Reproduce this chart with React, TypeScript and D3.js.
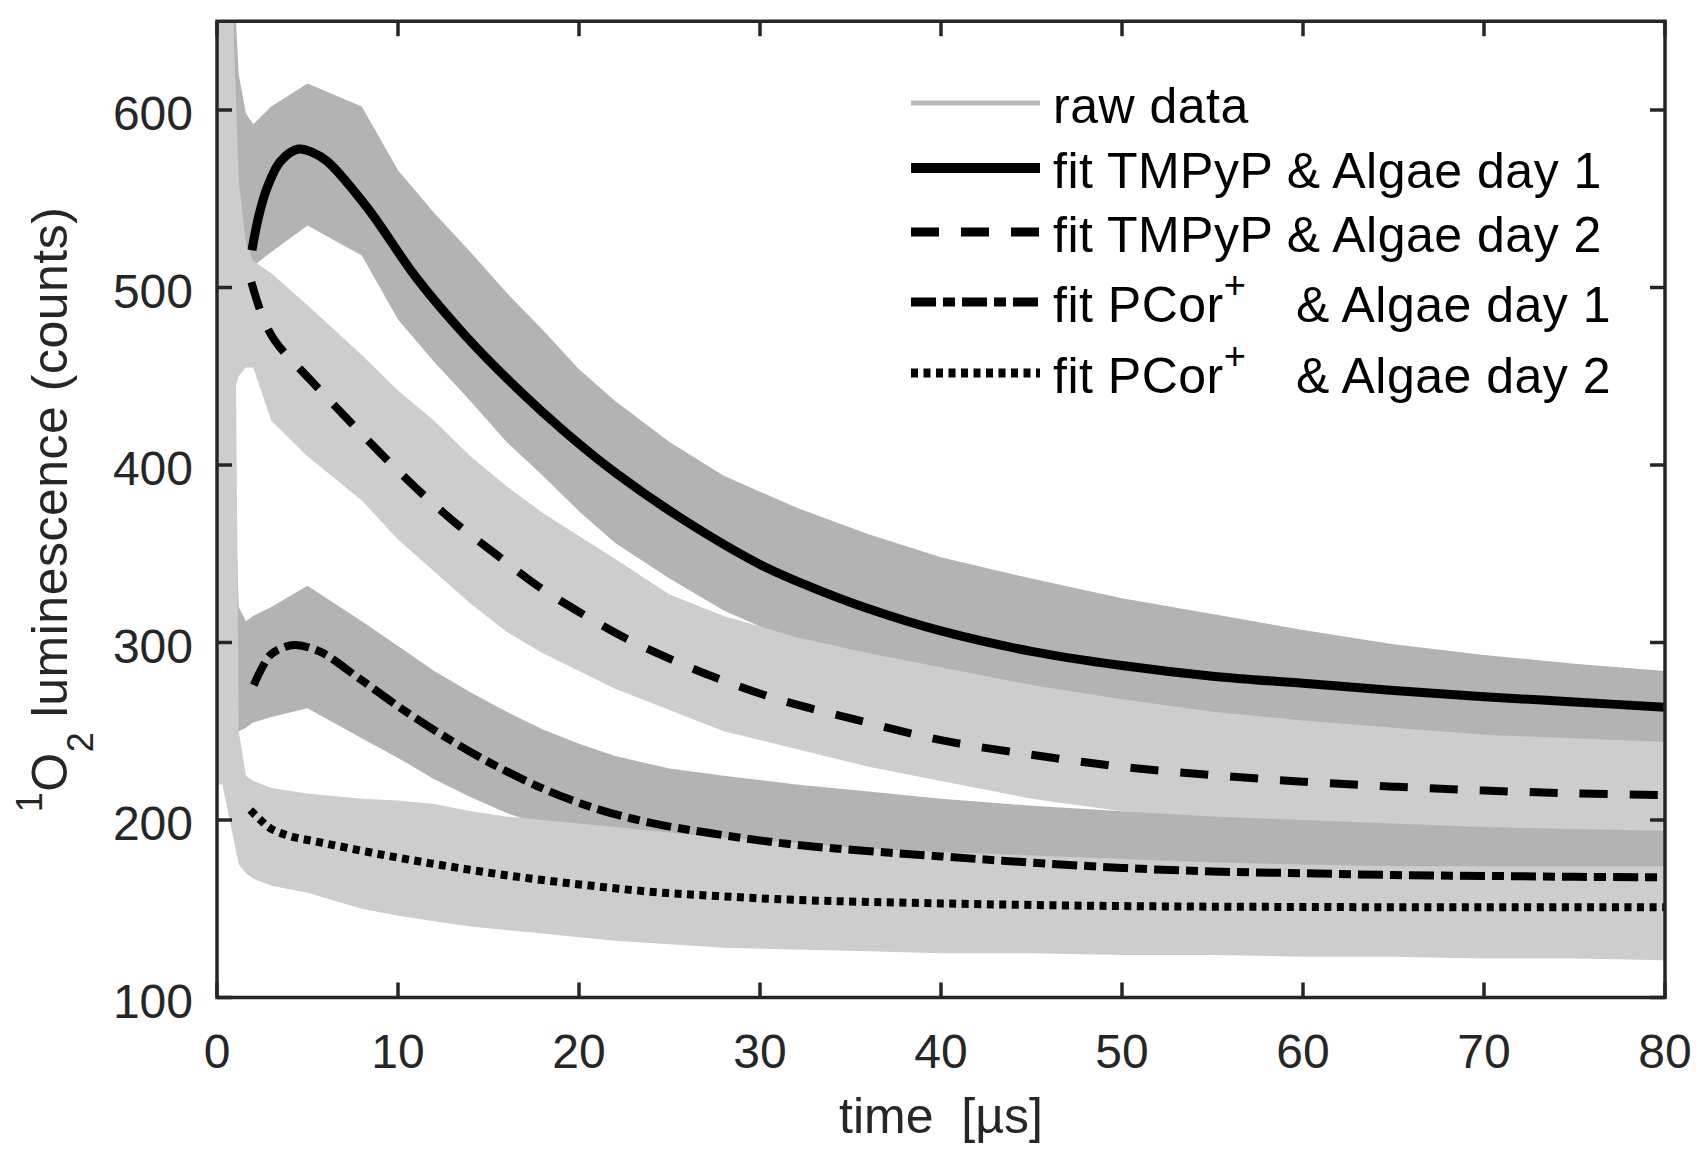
import * as d3 from "d3";

// raw traces (upper / lower edge of the grey band)
const rawTime = [0, 0.3, 0.6, 0.9, 1.2, 1.6, 2, 3, 5, 8, 10, 12, 14, 16, 18, 20, 22, 25, 28, 32, 36, 40, 45, 50, 55, 60, 65, 70, 75, 80];
const tmpyp1Hi = [700, 700, 700, 680, 620, 598, 592, 602, 615, 602, 566, 542, 520, 497, 476, 454, 436, 413, 394, 376, 361, 348, 336, 325, 316, 307, 299, 293, 288, 284];
const tmpyp1Lo = [250, 250, 420, 480, 495, 500, 512, 520, 535, 518, 482, 458, 436, 413, 394, 374, 356, 336, 318, 300, 284, 272, 262, 254, 248, 244, 240, 236, 233, 230];
const tmpyp2Hi = [700, 700, 700, 650, 560, 525, 515, 508, 490, 462, 442, 425, 405, 388, 373, 360, 347, 327, 315, 303, 294, 286, 276, 268, 261, 256, 252, 248, 246, 244];
const tmpyp2Lo = [240, 240, 400, 440, 450, 455, 455, 425, 405, 380, 358, 340, 322, 306, 294, 284, 274, 262, 250, 240, 230, 222, 212, 205, 200, 197, 195, 193, 191, 190];
const pcor1Hi = [700, 700, 560, 420, 320, 312, 315, 320, 332, 312, 298, 284, 272, 261, 251, 243, 236, 229, 225, 220, 216, 212, 208, 205, 202, 200, 198, 196, 195, 194];
const pcor1Lo = [230, 230, 240, 248, 250, 252, 255, 258, 263, 246, 235, 223, 213, 204, 197, 190, 184, 179, 175, 170, 165, 160, 157, 154, 152, 150, 149, 148, 147, 146];
const pcor2Hi = [700, 700, 690, 650, 250, 225, 222, 218, 215, 212, 211, 209, 205, 202, 200, 198, 196, 193, 190, 187, 184, 182, 180, 178, 176, 175, 174, 174, 174, 174];
const pcor2Lo = [220, 220, 205, 190, 175, 170, 167, 163, 159, 150, 146, 143, 140, 138, 136, 134, 132, 130, 128, 127, 126, 125, 125, 124, 124, 123, 123, 122, 122, 121];

// fitted curves
const fitT1 = [1.93, 2.3, 2.76, 3.5, 4.5, 5.3, 6.1, 8.3, 11.05, 13.8, 16.6, 19.3, 22.1, 25.8, 30, 33, 36, 40, 45, 50, 55, 60, 65, 70, 75, 80];
const fitV1 = [521, 540, 556, 571, 578, 576, 571, 545, 505, 472, 443, 418, 395, 369, 344, 330.5, 319, 306.5, 295, 287, 281, 277, 273, 269.5, 266.5, 263.5];
const fitT2 = [1.9, 2.5, 3.2, 5.15, 7.1, 9, 11, 13.1, 15.5, 17.7, 20.2, 22.65, 25.2, 27.6, 31, 35.9, 40, 45.1, 50, 55, 60, 65, 70, 75, 80];
const fitV2 = [503, 484, 470, 448, 427, 407, 387, 368, 349, 332, 316, 302, 290, 280, 268, 255, 245, 236.6, 230, 225.3, 221.6, 218.8, 216.6, 215, 214];
const fitT3 = [2.03, 2.5, 2.95, 3.6, 4.33, 5.7, 7.73, 10.3, 12.9, 15.5, 18.4, 21.2, 23.9, 27.3, 32, 40, 45, 50, 55, 60, 65, 70, 75, 80];
const fitV3 = [276, 286, 293, 297, 298.6, 294.8, 280.7, 262, 245, 230, 216, 205.6, 198.5, 192.5, 186, 179.5, 176, 173, 171, 170, 169, 168.5, 168, 167.7];
const fitT4 = [1.84, 2.4, 2.95, 4, 5.5, 9.2, 12.9, 16.6, 20.3, 23.9, 27.6, 32, 40, 50, 60, 70, 80];
const fitV4 = [205.6, 200, 195.3, 191, 187.8, 180.3, 173.7, 168, 163.4, 159.6, 157.2, 155, 153, 151.5, 151, 150.8, 150.8];

const xTicks = [0, 10, 20, 30, 40, 50, 60, 70, 80];
const yTicks = [100, 200, 300, 400, 500, 600];

const W = 1706;
const H = 1160;
const FONT = "'Liberation Sans', Arial, Helvetica, sans-serif";
const AXIS = "#262626";
const DARK = "#b3b3b3";
const LIGHT = "#cdcdcd";

const x = d3.scaleLinear().domain([0, 80]).range([217, 1665]);
const y = d3.scaleLinear().domain([100, 650]).range([997.5, 21.25]);

const band = d3
  .area<number>()
  .x((t) => x(t))
  .curve(d3.curveLinear);

function bandPath(hi: number[], lo: number[]) {
  return band.y0((_, i) => y(lo[i])).y1((_, i) => y(hi[i]))(rawTime) ?? "";
}

const fitLine = d3
  .line<[number, number]>()
  .x((d) => x(d[0]))
  .y((d) => y(d[1]))
  .curve(d3.curveCatmullRom.alpha(0.5));

function fitPath(ts: number[], vs: number[]) {
  return fitLine(ts.map((t, i) => [t, vs[i]] as [number, number])) ?? "";
}

const raws = [
  { hi: tmpyp1Hi, lo: tmpyp1Lo, color: DARK },
  { hi: tmpyp2Hi, lo: tmpyp2Lo, color: LIGHT },
  { hi: pcor1Hi, lo: pcor1Lo, color: DARK },
  { hi: pcor2Hi, lo: pcor2Lo, color: LIGHT },
];

const fits = [
  { t: fitT1, v: fitV1, width: 9, dash: "none" },
  { t: fitT2, v: fitV2, width: 8, dash: "28 22" },
  { t: fitT3, v: fitV3, width: 8, dash: "25 7 12 7" },
  { t: fitT4, v: fitV4, width: 8, dash: "7 5.5" },
];

const legendY = [103, 168, 232, 302, 373];

export default function App() {
  const [x0, x1] = x.range();
  const [yb, yt] = y.range();

  return (
    <svg
      width={W}
      height={H}
      style={{ position: "absolute", left: 0, top: 0, background: "#fff" }}
      fontFamily={FONT}
    >
      <defs>
        <clipPath id="plotClip">
          <rect x={x0} y={yt} width={x1 - x0} height={yb - yt} />
        </clipPath>
      </defs>

      <g clipPath="url(#plotClip)">
        {raws.map((r, i) => (
          <path key={i} d={bandPath(r.hi, r.lo)} fill={r.color} />
        ))}
        {fits.map((f, i) => (
          <path
            key={i}
            d={fitPath(f.t, f.v)}
            fill="none"
            stroke="#000"
            strokeWidth={f.width}
            strokeDasharray={f.dash}
          />
        ))}
      </g>

      {/* ticks, inward on all four sides */}
      <g stroke={AXIS} strokeWidth={3.5}>
        {xTicks.map((t) => (
          <g key={t}>
            <line x1={x(t)} x2={x(t)} y1={yb} y2={yb - 15} />
            <line x1={x(t)} x2={x(t)} y1={yt} y2={yt + 15} />
          </g>
        ))}
        {yTicks.map((v) => (
          <g key={v}>
            <line x1={x0} x2={x0 + 15} y1={y(v)} y2={y(v)} />
            <line x1={x1} x2={x1 - 15} y1={y(v)} y2={y(v)} />
          </g>
        ))}
      </g>
      <rect
        x={x0}
        y={yt}
        width={x1 - x0}
        height={yb - yt}
        fill="none"
        stroke={AXIS}
        strokeWidth={3.5}
      />

      <g fill={AXIS} fontSize={48}>
        {xTicks.map((t) => (
          <text key={t} x={x(t)} y={1068} textAnchor="middle">
            {t}
          </text>
        ))}
        {yTicks.map((v) => (
          <text key={v} x={193} y={y(v) + 20} textAnchor="end">
            {v}
          </text>
        ))}
      </g>

      <text
        x={(x0 + x1) / 2}
        y={1133}
        textAnchor="middle"
        fontSize={50}
        fill={AXIS}
        style={{ whiteSpace: "pre" }}
      >
        {"time  [µs]"}
      </text>

      <text
        transform={`translate(67,${(yb + yt) / 2}) rotate(-90)`}
        textAnchor="middle"
        fontSize={50}
        letterSpacing={0.5}
        fill={AXIS}
      >
        <tspan fontSize={36} dy={-25}>
          1
        </tspan>
        <tspan dy={25}>O</tspan>
        <tspan fontSize={36} dy={26}>
          2
        </tspan>
        <tspan dy={-26}>{" luminescence (counts)"}</tspan>
      </text>

      {/* legend */}
      <g fontSize={50} letterSpacing={0.5} fill="#000">
        <line x1={911} x2={1040} y1={legendY[0]} y2={legendY[0]} stroke="#b9b9b9" strokeWidth={5} />
        <text x={1053} y={legendY[0] + 20}>raw data</text>
        {fits.map((f, i) => (
          <line
            key={i}
            x1={911}
            x2={1040}
            y1={legendY[i + 1]}
            y2={legendY[i + 1]}
            stroke="#000"
            strokeWidth={f.width + 1}
            strokeDasharray={f.dash}
          />
        ))}
        <text x={1053} y={legendY[1] + 20}>fit TMPyP &amp; Algae day 1</text>
        <text x={1053} y={legendY[2] + 20}>fit TMPyP &amp; Algae day 2</text>
        {[3, 4].map((row) => (
          <g key={row}>
            <text x={1053} y={legendY[row] + 20}>
              fit PCor
              <tspan fontSize={38} dy={-24}>
                +
              </tspan>
            </text>
            <text x={1296} y={legendY[row] + 20}>
              &amp; Algae day {row === 3 ? 1 : 2}
            </text>
          </g>
        ))}
      </g>
    </svg>
  );
}
